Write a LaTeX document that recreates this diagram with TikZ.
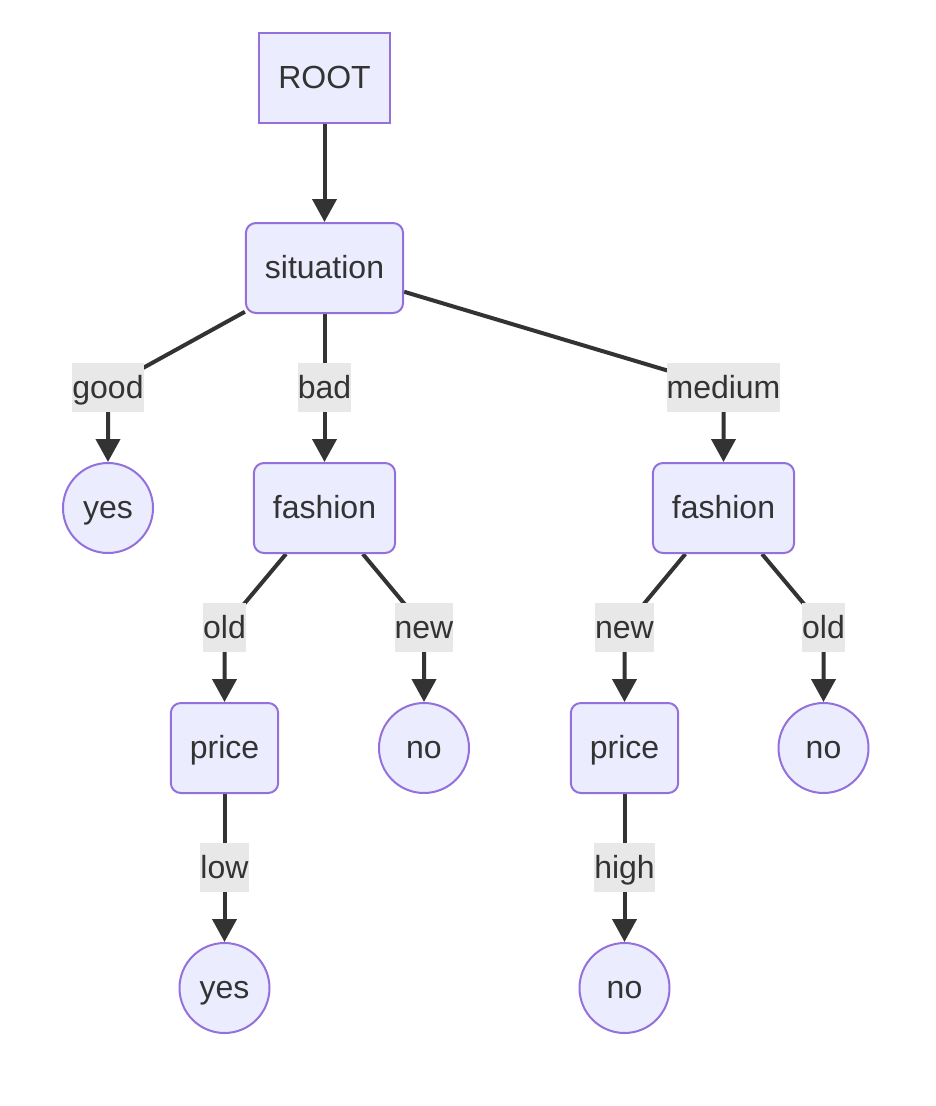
\documentclass[tikz,border=0pt]{standalone}
\usepackage{fontspec}
\setmainfont{Liberation Sans}
\usetikzlibrary{arrows.meta, positioning, backgrounds}

\definecolor{nodefill}{HTML}{ECECFF}
\definecolor{nodeline}{HTML}{9370DB}
\definecolor{inkgray}{HTML}{333333}
\definecolor{lblfill}{HTML}{E8E8E8}

\begin{document}
\begin{tikzpicture}[
  x=1pt, y=-1pt,
  font=\fontsize{32}{38}\selectfont, text=inkgray,
  every node/.style={text height=23pt, text depth=1.5pt},
  box/.style={rectangle, draw=nodeline, fill=nodefill, line width=2pt,
    minimum height=90pt, inner xsep=19pt},
  rbox/.style={box, rounded corners=10pt},
  leaf/.style={circle, draw=nodeline, fill=nodefill, line width=2pt,
    minimum size=90pt, inner sep=0pt},
  lbl/.style={fill=lblfill, inner xsep=0pt, minimum height=49pt},
  edge/.style={-{Triangle[length=23pt, width=24pt]}, line width=4pt, draw=inkgray}
]
\useasboundingbox (0,0) rectangle (936,1106);

\node[box] (root) at (324.5,78) {ROOT};
\node[rbox] (situation) at (324.5,268) {situation};
\node[leaf] (yes) at (108,508) {yes};
\node[rbox] (fashion1) at (324.5,508) {fashion};
\node[rbox] (fashion2) at (723.5,508) {fashion};
\node[rbox] (price1) at (224.5,748) {price};
\node[leaf] (no1) at (424,748) {no};
\node[rbox] (price2) at (624.5,748) {price};
\node[leaf] (no2) at (823.5,748) {no};
\node[leaf] (yes2) at (224.5,988) {yes};
\node[leaf] (no3) at (624.5,988) {no};

% edge labels sit just above their child
\node[lbl, above=50pt of yes] (lgood) {good};
\node[lbl, above=50pt of fashion1] (lbad) {bad};
\node[lbl, above=50pt of fashion2] (lmedium) {medium};
\node[lbl, above=50pt of price1] (lold1) {old};
\node[lbl, above=50pt of no1] (lnew1) {new};
\node[lbl, above=50pt of price2] (lnew2) {new};
\node[lbl, above=50pt of no2] (lold2) {old};
\node[lbl, above=50pt of yes2] (llow) {low};
\node[lbl, above=50pt of no3] (lhigh) {high};

\begin{pgfonlayer}{background}
\draw[edge] (root) -- (situation);
\draw[edge] (situation) -- (lgood.center) -- (yes);
\draw[edge] (situation) -- (lbad.center) -- (fashion1);
\draw[edge] (situation) -- (lmedium.center) -- (fashion2);
\draw[edge] (fashion1) -- (lold1.center) -- (price1);
\draw[edge] (fashion1) -- (lnew1.center) -- (no1);
\draw[edge] (fashion2) -- (lnew2.center) -- (price2);
\draw[edge] (fashion2) -- (lold2.center) -- (no2);
\draw[edge] (price1) -- (llow.center) -- (yes2);
\draw[edge] (price2) -- (lhigh.center) -- (no3);
\end{pgfonlayer}
\end{tikzpicture}
\end{document}
